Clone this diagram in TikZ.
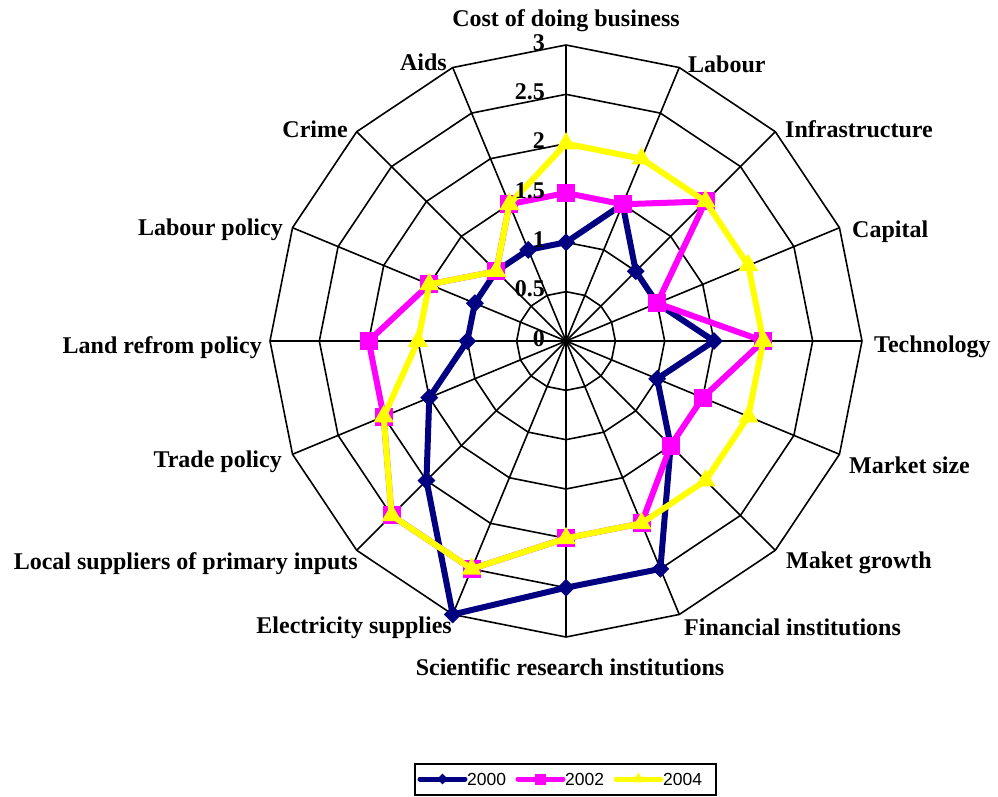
\documentclass[tikz,border=0pt]{standalone}
\usepackage{fontspec}
\setmainfont{Liberation Serif}
\setsansfont{Liberation Sans}
\usetikzlibrary{shapes.geometric,calc}

\definecolor{navyline}{RGB}{0,0,128}
\definecolor{pinkline}{RGB}{255,0,255}
\definecolor{yellowline}{RGB}{255,255,0}

\begin{document}
\begin{tikzpicture}%
	[
		x=1pt, y=1pt,
		font={\fontsize{24}{28}\selectfont\bfseries},
		gridline/.style={black, line width=1.6pt},
		catlabel/.style={inner sep=0},
		valuelabel/.style={inner sep=0, anchor=base east},
		serA/.style={navyline, line width=6pt, line join=miter},
		serB/.style={pinkline, line width=6pt, line join=miter},
		serC/.style={yellowline, line width=6pt, line join=miter},
		markA/.style={diamond, fill=navyline, inner sep=0, minimum size=18pt},
		markB/.style={rectangle, fill=pinkline, inner sep=0, minimum size=18pt},
		markC/.style={regular polygon, regular polygon sides=3, fill=yellowline, inner sep=0, minimum size=23pt},
		keytext/.style={font={\fontsize{17.5}{20}\selectfont\sffamily}, inner sep=0, anchor=west},
	]
	\useasboundingbox (-566,-455) rectangle (432,341);
	\coordinate (O) at (0,0);
	
	% web
	\foreach \k in {0,...,15}
		\coordinate (v\k) at ({90-22.5*\k}:296);
	\foreach \r in {0.5,1,...,3}
		\draw[gridline] (90:{\r*98.67}) \foreach \k in {1,...,15}{ -- ({90-22.5*\k}:{\r*98.67})} -- cycle;
	\foreach \k in {0,...,15}
		\draw[gridline] (O) -- (v\k);
	
	% 2000
	\foreach \v [count=\i from 0] in {1,1.5,1,1,1.5,1,1.5,2.5,2.5,3,2,1.5,1,1,1,1}
		\coordinate (a\i) at ({90-22.5*\i}:{\v*98.67});
	\draw[serA] (a0) \foreach \i in {1,...,15}{ -- (a\i)} -- cycle;
	\foreach \i in {0,...,15}
		\node[markA] (ma\i) at (a\i) {};
	
	% 2002
	\foreach \v [count=\i from 0] in {1.5,1.5,2,1,2,1.5,1.5,2,2,2.5,2.5,2,2,1.5,1,1.5}
		\coordinate (b\i) at ({90-22.5*\i}:{\v*98.67});
	\draw[serB] (b0) \foreach \i in {1,...,15}{ -- (b\i)} -- cycle;
	\foreach \i in {0,...,15}
		\node[markB] (mb\i) at (b\i) {};
	
	% 2004
	\foreach \v [count=\i from 0] in {2,2,2,2,2,2,2,2,2,2.5,2.5,2,1.5,1.5,1,1.5}
		\coordinate (c\i) at ({90-22.5*\i}:{\v*98.67});
	\draw[serC] (c0) \foreach \i in {1,...,15}{ -- (c\i)} -- cycle;
	\foreach \i in {0,...,15}
		\node[markC] (mc\i) at (c\i) {};
	
	% categories
	\node[catlabel, anchor=base] (cost) at (0,314) {Cost of doing business};
	\node[catlabel, anchor=base west] (labour) at (122,269) {Labour};
	\node[catlabel, anchor=base west] (infra) at (219,204) {Infrastructure};
	\node[catlabel, anchor=base west] (capital) at (286,104) {Capital};
	\node[catlabel, anchor=base west] (tech) at (308,-11) {Technology};
	\node[catlabel, anchor=base west] (msize) at (283,-132) {Market size};
	\node[catlabel, anchor=base west] (mgrowth) at (220,-227) {Maket growth};
	\node[catlabel, anchor=base west] (financial) at (118,-294) {Financial institutions};
	\node[catlabel, anchor=base] (science) at (4,-334) {Scientific research institutions};
	\node[catlabel, anchor=base east] (electricity) at (-114,-292) {Electricity supplies};
	\node[catlabel, anchor=base east] (suppliers) at (-208,-228) {Local suppliers of primary inputs};
	\node[catlabel, anchor=base east] (trade) at (-284,-126) {Trade policy};
	\node[catlabel, anchor=base east] (land) at (-304,-12) {Land refrom policy};
	\node[catlabel, anchor=base east] (lpolicy) at (-283,106) {Labour policy};
	\node[catlabel, anchor=base east] (crime) at (-218,204) {Crime};
	\node[catlabel, anchor=base east] (aids) at (-119,271) {Aids};
	
	% scale
	\foreach \t [count=\i from 0] in {0,0.5,1,1.5,2,2.5,3}
		\node[valuelabel] (val\i) at (-21,{\i*49.33-5}) {\t};
	
	% key
	\node[draw, line width=1.5pt, inner sep=0, minimum width=301pt, minimum height=31pt] (key) at (-0.5,-438.5) {};
	\coordinate (ka1) at (-146,-438);
	\coordinate (ka2) at (-101,-438);
	\coordinate (kb1) at (-48,-438);
	\coordinate (kb2) at (-3,-438);
	\coordinate (kc1) at (50,-438);
	\coordinate (kc2) at (95,-438);
	\draw[serA, line width=5pt, line cap=round] (ka1) -- (ka2);
	\node[markA, minimum size=11pt] (kma) at ($(ka1)!0.5!(ka2)$) {};
	\node[keytext] (ta) at (-99,-438) {2000};
	\draw[serB, line width=5pt, line cap=round] (kb1) -- (kb2);
	\node[markB, minimum size=11pt] (kmb) at ($(kb1)!0.5!(kb2)$) {};
	\node[keytext] (tb) at (-1,-438) {2002};
	\draw[serC, line width=5pt, line cap=round] (kc1) -- (kc2);
	\node[markC, minimum size=13pt] (kmc) at ($(kc1)!0.5!(kc2)$) {};
	\node[keytext] (tc) at (97,-438) {2004};
\end{tikzpicture}
\end{document}
